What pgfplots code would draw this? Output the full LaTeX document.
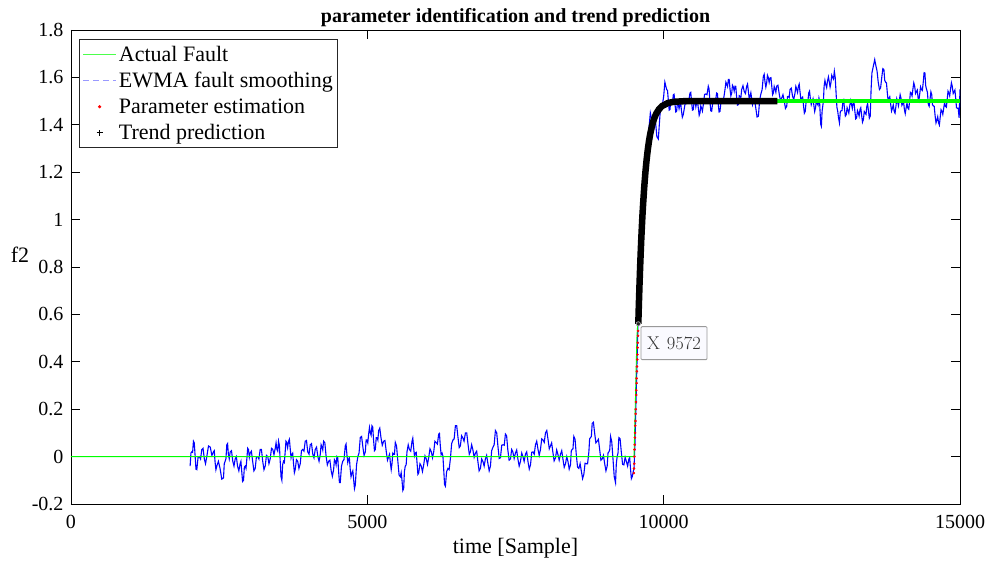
\documentclass[border=0pt]{standalone}
\usepackage{fontspec}
\setmainfont{Liberation Serif}
\newfontfamily\lmfont{Latin Modern Roman}
\usepackage{pgfplots}
\pgfplotsset{compat=1.18}
\definecolor{mgreen}{rgb}{0,1,0}
\definecolor{mblue}{rgb}{0,0,1}
\definecolor{mred}{rgb}{1,0,0}
\begin{document}
\begin{tikzpicture}
\useasboundingbox (-71pt,-59pt) rectangle (918pt,504pt);
\begin{axis}[
 at={(0,0)}, anchor=south west,
 scale only axis, width=889pt, height=474pt,
 xmin=0, xmax=15000, ymin=-0.2, ymax=1.8,
 xtick={0,5000,10000,15000},
 ytick={-0.2,0,0.2,0.4,0.6,0.8,1,1.2,1.4,1.6,1.8},
 scaled ticks=false,
 xticklabel={\pgfmathprintnumber[assume math mode=true,set thousands separator={}]{\tick}},
 yticklabel={\pgfmathprintnumber[assume math mode=true]{\tick}},
 tick align=inside, major tick length=9pt,
 tick style={black, line width=0.9pt},
 axis line style={line width=0.9pt},
 ticklabel style={font=\fontsize{20}{24}\selectfont},
 xticklabel style={yshift=-8pt},
 yticklabel style={xshift=-4pt},
 xlabel={time [Sample]}, ylabel={f2},
 label style={font=\fontsize{22}{26}\selectfont},
 xlabel style={at={(axis description cs:0.5,-0.093)}, anchor=center},
 ylabel style={rotate=-90, at={(axis description cs:-0.0574,0.525)}, anchor=center},
 title={parameter identification and trend prediction},
 title style={font=\bfseries\fontsize{20}{24}\selectfont, at={(axis description cs:0.5,1.0126)}, anchor=center},
 legend style={at={(axis description cs:0.009,0.981)}, anchor=north west,
   font=\fontsize{22}{26}\selectfont, draw=black!85, line width=0.8pt,
   inner xsep=3pt, inner ysep=4.5pt, row sep=5.5pt, nodes={inner sep=2pt}},
 legend cell align=left,
]
\addlegendimage{legend image code/.code={\path (0pt,0pt) (33pt,0pt);\draw[mgreen!70, line width=1.5pt] (0pt,0pt) -- (33pt,0pt);}}
\addlegendentry{Actual Fault}
\addlegendimage{legend image code/.code={\path (0pt,0pt) (33pt,0pt);\draw[mblue!40, line width=1pt, dash pattern=on 6pt off 4pt] (0pt,0pt) -- (33pt,0pt);}}
\addlegendentry{EWMA fault smoothing\hspace{4pt}}
\addlegendimage{legend image code/.code={\path (0pt,0pt) (33pt,0pt);\fill[mred] (16.5pt,0pt) circle (1.2pt);}}
\addlegendentry{Parameter estimation}
\addlegendimage{legend image code/.code={\path (0pt,0pt) (33pt,0pt);\draw[black, line width=0.6pt] (13.5pt,0pt) -- (19.5pt,0pt) (16.5pt,-3pt) -- (16.5pt,3pt);}}
\addlegendentry{Trend prediction}

\addplot[mblue, line width=1.1pt, forget plot] coordinates {
(2010,-0.04) (2024,0.015) (2038,0.02) (2052,0.018) (2066,0.065) (2080,0.058) (2095,0.0) (2109,-0.053)
(2123,-0.055) (2144,-0.003) (2165,0.0) (2186,-0.01) (2207,0.03) (2228,0.035) (2250,-0.01) (2270,-0.03)
(2291,0.0) (2320,0.045) (2350,0.04) (2377,0.005) (2404,0.02) (2417,0.025) (2430,-0.02) (2445,-0.055)
(2460,-0.04) (2487,-0.02) (2515,-0.05) (2544,-0.095) (2573,-0.09) (2586,-0.03) (2600,-0.02) (2614,-0.01)
(2629,0.05) (2642,0.055) (2655,0.01) (2670,-0.01) (2686,0.02) (2708,0.025) (2730,-0.02) (2750,-0.04)
(2770,-0.01) (2790,0.0) (2810,-0.04) (2832,-0.06) (2854,-0.03) (2867,-0.02) (2880,-0.06) (2895,-0.105)
(2911,-0.1) (2925,-0.045) (2940,-0.04) (2953,-0.05) (2967,-0.01) (2981,0.035) (2995,0.03) (3009,-0.003)
(3023,0.015) (3044,0.023) (3065,-0.02) (3086,-0.06) (3108,-0.05) (3129,0.0) (3150,0.0) (3171,-0.01)
(3192,0.03) (3213,0.03) (3235,-0.02) (3256,-0.055) (3277,-0.04) (3298,0.005) (3320,0.0) (3340,-0.03)
(3361,-0.01) (3383,0.035) (3405,0.03) (3425,0.008) (3446,0.035) (3460,0.058) (3475,0.03) (3488,0.023)
(3502,0.065) (3516,0.048) (3530,-0.02) (3544,-0.085) (3558,-0.1) (3571,-0.035) (3585,-0.02) (3600,-0.025)
(3614,0.02) (3627,0.065) (3640,0.06) (3655,0.038) (3671,0.065) (3685,0.073) (3700,0.03) (3713,-0.005)
(3727,0.01) (3741,0.015) (3755,-0.03) (3769,-0.068) (3783,-0.055) (3804,-0.013) (3825,-0.02) (3846,-0.05)
(3868,-0.03) (3889,0.025) (3910,0.03) (3931,0.023) (3952,0.065) (3973,0.068) (3995,0.02) (4016,0.01)
(4037,0.05) (4058,0.055) (4080,0.01) (4100,-0.005) (4121,0.03) (4143,0.04) (4165,0.0) (4185,-0.02)
(4206,0.01) (4220,0.05) (4235,0.04) (4248,0.028) (4262,0.065) (4283,0.058) (4305,0.0) (4325,-0.035)
(4346,-0.02) (4368,-0.015) (4390,-0.06) (4410,-0.083) (4431,-0.055) (4445,-0.013) (4460,-0.02) (4473,-0.035)
(4487,0.0) (4501,-0.005) (4515,-0.06) (4529,-0.11) (4543,-0.11) (4564,-0.04) (4585,-0.02) (4606,-0.013)
(4628,0.045) (4641,0.053) (4655,0.01) (4670,-0.025) (4684,-0.01) (4697,-0.005) (4710,-0.05) (4725,-0.085)
(4740,-0.07) (4755,-0.06) (4770,-0.1) (4783,-0.135) (4797,-0.12) (4818,-0.035) (4840,0.0) (4860,0.015)
(4881,0.08) (4903,0.085) (4925,0.04) (4945,0.005) (4966,0.02) (4980,0.07) (4995,0.07) (5008,0.058)
(5022,0.095) (5036,0.123) (5050,0.1) (5064,0.09) (5078,0.13) (5091,0.125) (5105,0.07) (5120,0.025)
(5135,0.03) (5150,0.08) (5165,0.08) (5178,0.07) (5191,0.11) (5210,0.12) (5230,0.08) (5252,0.048)
(5275,0.065) (5297,0.068) (5320,0.02) (5340,-0.015) (5360,0.0) (5375,0.01) (5390,-0.03) (5403,-0.055)
(5416,-0.03) (5430,0.015) (5445,0.01) (5458,0.01) (5472,0.06) (5493,0.045) (5515,-0.02) (5536,-0.078)
(5557,-0.085) (5571,-0.068) (5585,-0.1) (5599,-0.143) (5613,-0.135) (5626,-0.063) (5640,-0.04) (5655,-0.035)
(5669,0.02) (5690,0.05) (5710,0.03) (5732,0.023) (5754,0.065) (5767,0.078) (5780,0.04) (5795,0.003)
(5810,0.015) (5825,0.018) (5840,-0.03) (5853,-0.075) (5866,-0.07) (5888,-0.03) (5910,-0.04) (5930,-0.063)
(5951,-0.035) (5973,0.003) (5995,-0.01) (6015,-0.033) (6035,-0.005) (6057,0.033) (6080,0.02) (6100,-0.005)
(6120,0.02) (6140,0.065) (6160,0.06) (6182,0.053) (6204,0.095) (6217,0.098) (6230,0.05) (6245,0.008)
(6261,0.015) (6275,0.003) (6290,-0.06) (6303,-0.118) (6317,-0.125) (6338,-0.063) (6360,-0.05) (6380,-0.055)
(6401,-0.01) (6423,0.055) (6445,0.07) (6465,0.075) (6486,0.13) (6508,0.13) (6530,0.08) (6550,0.038)
(6570,0.045) (6590,0.088) (6610,0.08) (6632,0.065) (6655,0.1) (6677,0.1) (6700,0.05) (6720,0.01)
(6739,0.02) (6760,0.05) (6780,0.03) (6802,-0.003) (6824,0.015) (6845,0.023) (6865,-0.02) (6886,-0.06)
(6908,-0.05) (6929,-0.01) (6950,-0.02) (6971,-0.04) (6992,-0.01) (7013,0.005) (7035,-0.03) (7056,-0.06)
(7077,-0.04) (7098,0.025) (7120,0.04) (7140,0.05) (7161,0.11) (7183,0.1) (7205,0.04) (7225,-0.008)
(7246,-0.005) (7268,0.048) (7290,0.05) (7310,0.048) (7330,0.095) (7350,0.088) (7370,0.03) (7392,-0.015)
(7415,-0.01) (7435,0.03) (7455,0.02) (7477,-0.008) (7499,0.015) (7520,0.028) (7540,-0.01) (7562,-0.04)
(7584,-0.02) (7605,0.015) (7625,0.0) (7646,-0.02) (7668,0.01) (7689,0.02) (7710,-0.02) (7732,-0.053)
(7753,-0.035) (7774,0.018) (7795,0.02) (7816,0.01) (7837,0.05) (7858,0.065) (7880,0.03) (7900,0.005)
(7921,0.03) (7943,0.075) (7965,0.07) (7985,0.06) (8006,0.1) (8028,0.11) (8050,0.07) (8070,0.033)
(8090,0.045) (8110,0.058) (8130,0.02) (8152,-0.018) (8175,-0.005) (8195,0.028) (8215,0.01) (8237,-0.015)
(8259,0.01) (8280,0.025) (8300,-0.01) (8322,-0.045) (8344,-0.03) (8365,0.0) (8385,-0.02) (8406,-0.053)
(8428,-0.035) (8441,0.023) (8455,0.03) (8470,0.033) (8484,0.085) (8505,0.073) (8525,0.01) (8547,-0.045)
(8569,-0.05) (8590,-0.03) (8610,-0.06) (8632,-0.093) (8653,-0.075) (8674,-0.028) (8695,-0.03) (8716,-0.03)
(8738,0.02) (8751,0.075) (8765,0.08) (8780,0.085) (8794,0.14) (8815,0.145) (8835,0.1) (8856,0.058)
(8878,0.065) (8899,0.073) (8920,0.03) (8941,-0.015) (8963,-0.01) (8984,0.005) (9005,-0.03) (9026,-0.06)
(9047,-0.04) (9061,0.015) (9075,0.02) (9090,0.028) (9104,0.085) (9124,0.063) (9145,-0.01) (9166,-0.085)
(9188,-0.11) (9201,-0.03) (9215,0.0) (9230,0.015) (9244,0.08) (9265,0.075) (9285,0.02) (9307,-0.033)
(9329,-0.035) (9350,-0.003) (9370,-0.02) (9392,-0.04) (9413,-0.01) (9427,-0.005) (9440,-0.05) (9455,-0.093)
(9469,-0.085) (9490,-0.06) (9500,-0.05)
(9515,0.05) (9530,0.2) (9545,0.35) (9560,0.5) (9580,0.68) (9600,0.85) (9625,0.98) (9650,1.1)
(9675,1.18) (9700,1.25) (9730,1.33) (9750,1.38) (9775,1.45) (9800,1.42) (9830,1.38) (9860,1.42)
(9885,1.35) (9910,1.34) (9940,1.45) (9970,1.47) (10000,1.52) (10020,1.58)
(10050,1.549) (10065,1.545) (10080,1.5) (10093,1.462) (10106,1.464) (10120,1.502) (10135,1.5) (10149,1.494)
(10163,1.527) (10176,1.529) (10190,1.49) (10204,1.454) (10219,1.457) (10232,1.494) (10245,1.49) (10260,1.468)
(10275,1.485) (10287,1.493) (10300,1.46) (10315,1.432) (10331,1.443) (10360,1.487) (10390,1.49) (10417,1.492)
(10444,1.534) (10457,1.537) (10470,1.5) (10485,1.462) (10500,1.464) (10515,1.502) (10530,1.5) (10543,1.476)
(10556,1.492) (10570,1.501) (10585,1.47) (10599,1.44) (10613,1.45) (10626,1.48) (10640,1.47) (10654,1.458)
(10669,1.485) (10690,1.528) (10710,1.53) (10731,1.527) (10753,1.563) (10766,1.552) (10780,1.5) (10795,1.459)
(10810,1.457) (10830,1.499) (10850,1.5) (10872,1.497) (10894,1.534) (10907,1.532) (10920,1.49) (10935,1.454)
(10950,1.457) (10970,1.504) (10990,1.51) (11012,1.51) (11035,1.549) (11050,1.58) (11065,1.57) (11078,1.561)
(11091,1.591) (11105,1.591) (11120,1.55) (11134,1.522) (11148,1.534) (11161,1.567) (11175,1.56) (11190,1.542)
(11204,1.563) (11217,1.562) (11230,1.52) (11245,1.483) (11260,1.485) (11275,1.523) (11290,1.52) (11303,1.515)
(11316,1.549) (11338,1.565) (11360,1.54) (11380,1.532) (11401,1.563) (11415,1.572) (11430,1.54) (11443,1.51)
(11457,1.52) (11471,1.535) (11485,1.51) (11499,1.485) (11513,1.499) (11534,1.505) (11555,1.47) (11576,1.433)
(11598,1.436) (11619,1.503) (11640,1.53) (11661,1.548) (11682,1.605) (11696,1.613) (11710,1.58) (11724,1.559)
(11738,1.577) (11751,1.609) (11765,1.6) (11780,1.579) (11795,1.598) (11810,1.599) (11825,1.56) (11838,1.527)
(11851,1.534) (11865,1.562) (11880,1.55) (11893,1.537) (11907,1.563) (11928,1.567) (11950,1.53) (11971,1.502)
(11992,1.513) (12013,1.527) (12035,1.5) (12055,1.469) (12076,1.478) (12090,1.519) (12105,1.52) (12118,1.515)
(12132,1.549) (12153,1.555) (12175,1.52) (12195,1.507) (12216,1.534) (12230,1.562) (12245,1.55) (12259,1.537)
(12274,1.563) (12287,1.572) (12300,1.54) (12315,1.507) (12331,1.513) (12345,1.517) (12360,1.48) (12374,1.449)
(12389,1.457) (12404,1.499) (12420,1.5) (12433,1.497) (12447,1.534) (12461,1.542) (12475,1.51) (12490,1.485)
(12505,1.499) (12520,1.51) (12535,1.48) (12548,1.456) (12562,1.471) (12576,1.501) (12590,1.49) (12605,1.482)
(12620,1.513) (12630,1.502) (12640,1.45) (12650,1.402) (12661,1.394) (12673,1.457) (12685,1.48) (12696,1.502)
(12707,1.563) (12721,1.587) (12735,1.57) (12750,1.557) (12764,1.584) (12780,1.602) (12795,1.58) (12808,1.559)
(12822,1.577) (12836,1.609) (12850,1.6) (12865,1.593) (12880,1.626) (12895,1.598) (12910,1.53) (12923,1.474)
(12937,1.457) (12950,1.43) (12966,1.408) (12980,1.454) (12995,1.46) (13009,1.46) (13024,1.499) (13037,1.505)
(13050,1.47) (13065,1.437) (13081,1.443) (13095,1.472) (13110,1.46) (13124,1.449) (13139,1.478) (13154,1.502)
(13170,1.485) (13183,1.469) (13197,1.492) (13211,1.496) (13225,1.46) (13240,1.425) (13255,1.429) (13270,1.46)
(13285,1.45) (13298,1.437) (13312,1.464) (13326,1.472) (13340,1.44) (13355,1.411) (13370,1.422) (13385,1.456)
(13400,1.45) (13414,1.444) (13428,1.478) (13441,1.489) (13455,1.46) (13470,1.428) (13485,1.436) (13500,1.55)
(13514,1.619) (13540,1.65) (13561,1.675) (13580,1.65) (13601,1.626) (13620,1.58) (13641,1.549) (13660,1.555)
(13680,1.6) (13698,1.637) (13716,1.633) (13730,1.587) (13745,1.58) (13759,1.577) (13774,1.534) (13787,1.502)
(13800,1.51) (13815,1.518) (13831,1.485) (13845,1.458) (13860,1.47) (13874,1.484) (13889,1.457) (13904,1.449)
(13920,1.48) (13933,1.51) (13947,1.499) (13961,1.48) (13975,1.5) (13990,1.527) (14004,1.513) (14020,1.482)
(14035,1.49) (14048,1.497) (14062,1.464) (14076,1.447) (14090,1.47) (14105,1.491) (14120,1.471) (14135,1.466)
(14150,1.5) (14163,1.537) (14177,1.534) (14191,1.522) (14205,1.55) (14220,1.577) (14235,1.563) (14250,1.532)
(14265,1.54) (14279,1.547) (14293,1.513) (14306,1.502) (14320,1.53) (14335,1.56) (14350,1.549) (14365,1.545)
(14380,1.58) (14394,1.62) (14408,1.619) (14421,1.565) (14435,1.55) (14450,1.538) (14466,1.485) (14480,1.478)
(14495,1.51) (14509,1.539) (14523,1.527) (14536,1.484) (14550,1.48) (14565,1.478) (14581,1.436) (14595,1.408)
(14610,1.42) (14624,1.434) (14639,1.408) (14652,1.399) (14665,1.43) (14680,1.464) (14696,1.457) (14710,1.444)
(14725,1.47) (14740,1.494) (14754,1.478) (14770,1.474) (14785,1.51) (14798,1.542) (14812,1.534) (14826,1.522)
(14840,1.55) (14855,1.577) (14869,1.563) (14885,1.532) (14900,1.54) (14914,1.547) (14927,1.513) (14941,1.472)
(14955,1.47) (14970,1.47) (14985,1.429) (15000,1.549)
};
\addplot[mgreen, line width=0.9pt, forget plot] coordinates {
(0,0) (9500,0) (9548,0.5) (9575,0.62) (9602,0.794) (9632,0.969) (9672,1.137) (9732,1.295)
(9802,1.395) (9922,1.466) (10072,1.492) (10372,1.5)};
\addplot[mgreen, line width=4pt, forget plot] coordinates {(10300,1.5) (15000,1.5)};
\addplot[mred, only marks, mark=*, mark size=1.1pt, forget plot] coordinates {
(9497,-0.07) (9500,-0.05) (9503,-0.03) (9506,0.0) (9509,0.03) (9512,0.05) (9515,0.08) (9518,0.10)
(9521,0.13) (9524,0.15) (9527,0.18) (9530,0.20) (9533,0.23) (9536,0.26) (9539,0.28) (9542,0.31)
(9545,0.33) (9548,0.36) (9551,0.38) (9554,0.41) (9557,0.43) (9560,0.46) (9563,0.48) (9566,0.51)
(9569,0.53) (9572,0.56)
};
\addplot[black, line width=6.5pt, line join=round, forget plot] coordinates {
(9572,0.56) (9582,0.646) (9592,0.723) (9602,0.794) (9612,0.858) (9622,0.916) (9632,0.969) (9642,1.018)
(9652,1.061) (9672,1.137) (9692,1.200) (9712,1.252) (9732,1.295) (9752,1.331) (9772,1.360) (9802,1.395)
(9832,1.421) (9872,1.446) (9922,1.466) (9972,1.479) (10072,1.492) (10172,1.497) (10372,1.5) (10600,1.5)
(10800,1.5) (11000,1.5) (11200,1.5) (11400,1.5) (11600,1.5) (11800,1.5) (11920,1.5)
};
\addplot[only marks, mark=*, mark size=2.2pt, mark options={fill=black!85, draw=black!25, line width=0.6pt}, forget plot] coordinates {(9572,0.56)};
\node[draw=black!40, fill=blue!2, rounded corners=1pt, minimum width=66pt, minimum height=33pt,
  anchor=north west, text=black!80, font=\lmfont\fontsize{18.5}{21}\selectfont, line width=0.8pt]
  at (axis cs:9612,0.55) {X\hspace{7pt}9572};
\end{axis}
\end{tikzpicture}
\end{document}
